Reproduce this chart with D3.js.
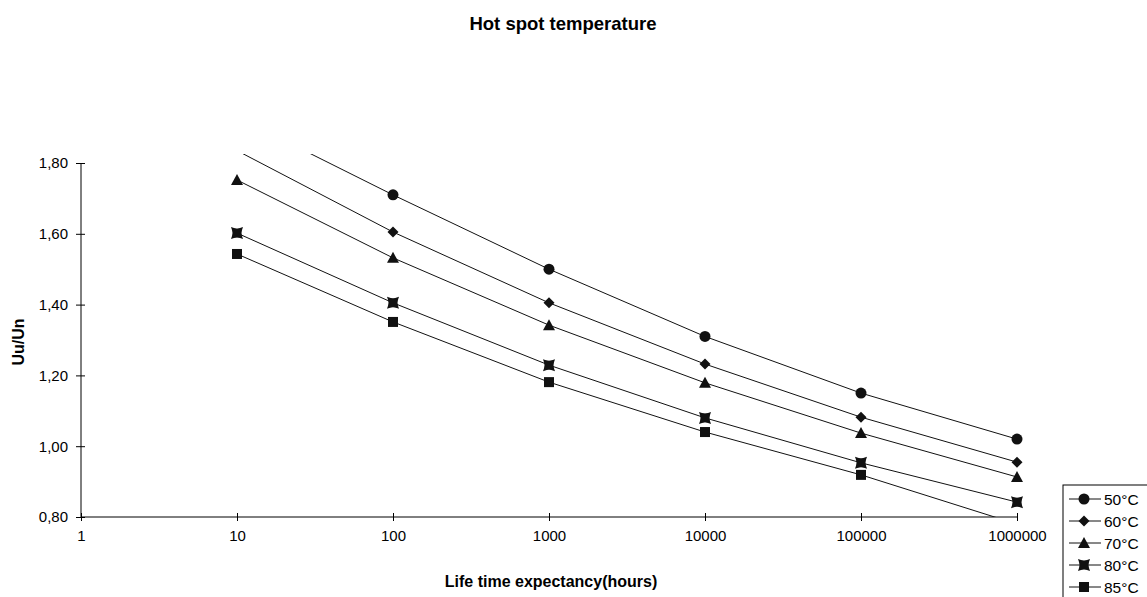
<!DOCTYPE html>
<html>
<head>
<meta charset="utf-8">
<style>
  body { margin: 0; background: #fff; }
  svg { font-family: "Liberation Sans", Arial, sans-serif; }
</style>
</head>
<body>
<svg width="1147" height="597"></svg>
<script src="https://d3js.org/d3.v7.min.js"></script>
<script>

    // hours on the x axis (log), Uu/Un on the y axis
    var hours = [10, 100, 1000, 10000, 100000, 1000000];
    var xTicks = [1, 10, 100, 1000, 10000, 100000, 1000000];
    var yTicks = [0.80, 1.00, 1.20, 1.40, 1.60, 1.80];

    var temps = ["50°C", "60°C", "70°C", "80°C", "85°C"];
    var v50 = [1.93, 1.71, 1.50, 1.31, 1.15, 1.02];
    var v60 = [1.835, 1.605, 1.405, 1.232, 1.082, 0.955];
    var v70 = [1.752, 1.532, 1.342, 1.179, 1.037, 0.913];
    var v80 = [1.602, 1.405, 1.229, 1.080, 0.953, 0.842];
    var v85 = [1.543, 1.351, 1.181, 1.040, 0.919, 0.78];
    var series = [v50, v60, v70, v80, v85];
    var shapes = ["circle", "diamond", "triangle", "xsquare", "square"];

    var svg = d3.select("svg");

    var x = d3.scaleLog().domain([1, 1000000]).range([81, 1017]);
    var y = d3.scaleLinear().domain([0.80, 1.80]).range([517, 163]);

    // title
    svg.append("text")
        .attr("x", 563).attr("y", 30)
        .attr("text-anchor", "middle")
        .style("font-size", "18.5px").style("font-weight", "bold")
        .text("Hot spot temperature");

    // axis titles
    svg.append("text")
        .attr("transform", "translate(24,342) rotate(-90)")
        .attr("text-anchor", "middle")
        .style("font-size", "16px").style("font-weight", "bold")
        .text("Uu/Un");

    svg.append("text")
        .attr("x", 551).attr("y", 587)
        .attr("text-anchor", "middle")
        .style("font-size", "16px").style("font-weight", "bold")
        .text("Life time expectancy(hours)");

    // y axis
    var yAxis = svg.append("g")
        .attr("transform", "translate(" + x(1) + ",0)")
        .call(d3.axisLeft(y).tickValues(yTicks).tickSize(5)
            .tickFormat(function (d) { return d3.format(".2f")(d).replace(".", ","); }));
    yAxis.select(".domain").attr("d", "M0," + y(0.80) + "V" + y(1.80));
    yAxis.selectAll(".tick line").attr("x1", 4);
    yAxis.selectAll("text").style("font-size", "15px").attr("x", -13);

    // x axis
    var xAxis = svg.append("g")
        .attr("transform", "translate(0," + y(0.80) + ")")
        .call(d3.axisBottom(x).tickValues(xTicks).tickSize(4).tickFormat(d3.format("d")));
    xAxis.select(".domain").attr("d", "M" + x(1) + ",0H" + x(1000000));
    xAxis.selectAll(".tick line").attr("y1", -4);
    xAxis.selectAll("text").style("font-size", "15px").attr("y", 13);
    svg.selectAll(".domain, .tick line").attr("stroke", "#000");

    // clip for values outside the plot area
    svg.append("clipPath").attr("id", "plot")
        .append("rect")
        .attr("x", x(1)).attr("y", y(1.80) - 9)
        .attr("width", x(1000000) - x(1) + 10)
        .attr("height", y(0.80) - y(1.80) + 9);

    var line = d3.line()
        .x(function (d, i) { return x(hours[i]); })
        .y(function (d) { return y(d); });

    function marker(g, shape) {
        if (shape === "circle") {
            g.append("circle").attr("r", 5.5);
        } else if (shape === "diamond") {
            g.append("path").attr("d", "M0,-5.5L5.5,0L0,5.5L-5.5,0Z");
        } else if (shape === "triangle") {
            g.append("path").attr("d", "M0,-6L6,5L-6,5Z");
        } else if (shape === "xsquare") {
            // square with notched sides
            g.append("path").attr("d",
                "M-6,-6L0,-4L6,-6L4,0L6,6L0,4L-6,6L-4,0Z");
            g.append("rect").attr("x", -4.5).attr("y", -4.5).attr("width", 9).attr("height", 9);
        } else {
            g.append("rect").attr("x", -5).attr("y", -5).attr("width", 10).attr("height", 10);
        }
    }

    var plot = svg.append("g").attr("clip-path", "url(#plot)");

    series.forEach(function (vals, s) {
        plot.append("path")
            .attr("d", line(vals))
            .attr("fill", "none")
            .attr("stroke", "#111")
            .attr("stroke-width", 1);

        vals.forEach(function (v, i) {
            if (v < 0.80 || v > 1.80) return;
            var g = plot.append("g")
                .attr("transform", "translate(" + x(hours[i]) + "," + y(v) + ")")
                .attr("fill", "#111");
            marker(g, shapes[s]);
        });
    });

    // legend
    var legend = svg.append("g").attr("transform", "translate(1063,485)");
    legend.append("rect")
        .attr("width", 90).attr("height", 120)
        .attr("fill", "#fff").attr("stroke", "#000");

    temps.forEach(function (t, i) {
        var row = legend.append("g").attr("transform", "translate(0," + (14 + i * 22) + ")");
        row.append("line").attr("x1", 6).attr("x2", 38).attr("stroke", "#111");
        var g = row.append("g").attr("transform", "translate(21,0)").attr("fill", "#111");
        marker(g, shapes[i]);
        row.append("text")
            .attr("x", 41).attr("y", 5.5)
            .style("font-size", "15.5px")
            .text(t);
    });

</script>
</body>
</html>
